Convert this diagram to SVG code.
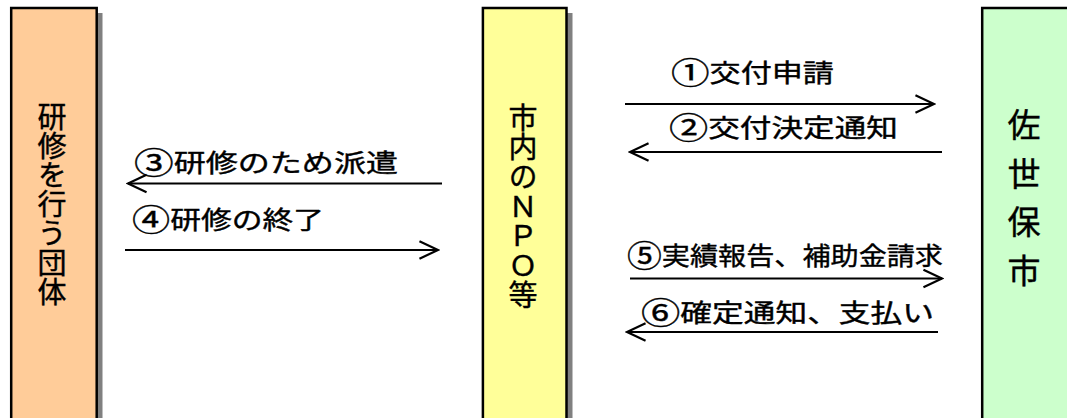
<svg xmlns="http://www.w3.org/2000/svg" width="1067" height="418" viewBox="0 0 1067 418">
<style>
.box{stroke:#000;stroke-width:2.5}
.shadow{fill:#808080}
.vt{font-family:"Noto Sans CJK JP","Noto Sans CJK SC",sans-serif;fill:#000;stroke:#000;stroke-width:0.4;writing-mode:vertical-rl;text-orientation:upright}
.lbl{font-family:"Noto Sans CJK JP","Noto Sans CJK SC",sans-serif;font-size:25px;fill:#000;stroke:#000;stroke-width:0.4}
.num{font-size:31px}
.arrow{stroke:#000;stroke-width:2;fill:none}
</style>
<defs>
<marker id="head" markerUnits="userSpaceOnUse" markerWidth="24" markerHeight="24" viewBox="-20 -10 22 20" refX="0" refY="0" orient="auto">
<path d="M-17,-8 L0,0 L-17,8" fill="none" stroke="#000" stroke-width="2"/>
</marker>
</defs>
<rect width="1067" height="418" fill="#fff"/>
<g id="node-dantai">
<rect class="shadow" x="97" y="13" width="5.5" height="420"/>
<rect class="box" x="11.2" y="8" width="85.5" height="420" fill="#FFCC99"/>
<text class="vt" font-size="29" letter-spacing="0.2" x="52" y="102">研修を行う団体</text>
</g>
<g id="node-npo">
<rect class="shadow" x="567" y="13" width="5.5" height="420"/>
<rect class="box" x="482.9" y="8" width="83.6" height="420" fill="#FFFF99"/>
<text class="vt" font-size="29" letter-spacing="0.5" x="523" y="103">市内のＮＰＯ等</text>
</g>
<g id="node-city">
<rect class="box" x="982.2" y="8" width="90" height="420" fill="#CCFFCC"/>
<text class="vt" font-size="33" letter-spacing="15.7" x="1024" y="108">佐世保市</text>
</g>
<g id="connectors">
<line class="arrow" x1="625" y1="104" x2="934" y2="104" marker-end="url(#head)"/>
<line class="arrow" x1="942" y1="152" x2="630" y2="152" marker-end="url(#head)"/>
<line class="arrow" x1="442" y1="183.5" x2="128" y2="183.5" marker-end="url(#head)"/>
<line class="arrow" x1="125" y1="250" x2="438" y2="250" marker-end="url(#head)"/>
<line class="arrow" x1="630" y1="278.5" x2="942" y2="278.5" marker-end="url(#head)"/>
<line class="arrow" x1="938" y1="332" x2="627" y2="332" marker-end="url(#head)"/>
<text class="lbl" x="671" y="82" textLength="163" lengthAdjust="spacingAndGlyphs"><tspan class="num" dy="2">①</tspan><tspan dy="-2">交付申請</tspan></text>
<text class="lbl" x="669" y="137" textLength="229" lengthAdjust="spacingAndGlyphs"><tspan class="num" dy="2">②</tspan><tspan dy="-2">交付決定通知</tspan></text>
<text class="lbl" x="134" y="172" textLength="264" lengthAdjust="spacingAndGlyphs"><tspan class="num" dy="2">③</tspan><tspan dy="-2">研修のため派遣</tspan></text>
<text class="lbl" x="132" y="229" textLength="192" lengthAdjust="spacingAndGlyphs"><tspan class="num" dy="2">④</tspan><tspan dy="-2">研修の終了</tspan></text>
<text class="lbl" x="627" y="265" textLength="316" lengthAdjust="spacingAndGlyphs"><tspan class="num" dy="2">⑤</tspan><tspan dy="-2">実績報告、補助金請求</tspan></text>
<text class="lbl" x="641" y="322" textLength="293" lengthAdjust="spacingAndGlyphs"><tspan class="num" dy="2">⑥</tspan><tspan dy="-2">確定通知、支払い</tspan></text>
</g>
</svg>
